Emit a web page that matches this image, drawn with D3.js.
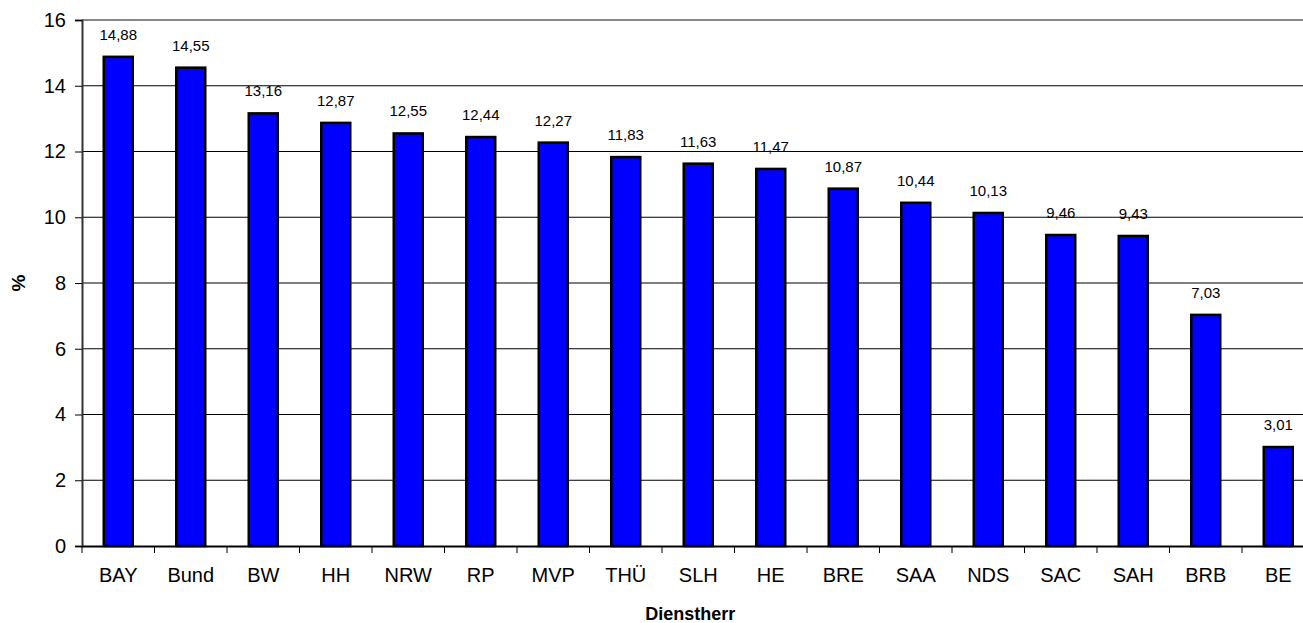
<!DOCTYPE html>
<html lang="de">
<head>
<meta charset="UTF-8">
<title>Dienstherr</title>
<script src="https://cdn.jsdelivr.net/npm/d3@7/dist/d3.min.js"></script>
<style>
    html, body { margin: 0; padding: 0; background: #fff; }
    svg { display: block; font-family: "Liberation Sans", Arial, sans-serif; }
</style>
</head>
<body>
<svg id="chart" width="1303" height="623"></svg>
<script>
    // data
    var categories = ["BAY", "Bund", "BW", "HH", "NRW", "RP", "MVP", "THÜ", "SLH", "HE", "BRE", "SAA", "NDS", "SAC", "SAH", "BRB", "BE"];
    var values = [14.88, 14.55, 13.16, 12.87, 12.55, 12.44, 12.27, 11.83, 11.63, 11.47, 10.87, 10.44, 10.13, 9.46, 9.43, 7.03, 3.01];
    var yTicks = [0, 2, 4, 6, 8, 10, 12, 14, 16];

    var svg = d3.select("#chart");
    var plotLeft = 82, plotTop = 20, plotBottom = 546, plotRight = 1314.5;

    var x = d3.scaleBand().domain(categories).range([plotLeft, plotRight]);
    var y = d3.scaleLinear().domain([0, 16]).range([plotBottom, plotTop]);

    // gridlines
    svg.append("g").selectAll("line")
        .data(yTicks.filter(function (t) { return t > 0 && t < 16; }))
        .join("line")
        .attr("x1", plotLeft).attr("x2", plotRight)
        .attr("y1", function (d) { return y(d); })
        .attr("y2", function (d) { return y(d); })
        .attr("stroke", "#000").attr("stroke-width", 1);

    // top border of plot area
    svg.append("line")
        .attr("x1", plotLeft).attr("x2", plotRight)
        .attr("y1", y(16)).attr("y2", y(16))
        .attr("stroke", "#888").attr("stroke-width", 2);

    // bars
    var bw = x.bandwidth() * 0.4;
    svg.append("g").selectAll("rect")
        .data(values)
        .join("rect")
        .attr("x", function (d, i) { return x(categories[i]) + (x.bandwidth() - bw) / 2; })
        .attr("y", function (d) { return y(d); })
        .attr("width", bw)
        .attr("height", function (d) { return y(0) - y(d); })
        .attr("fill", "#0000ff")
        .attr("stroke", "#000")
        .attr("stroke-width", 2.5);

    // value labels
    svg.append("g").selectAll("text")
        .data(values)
        .join("text")
        .attr("x", function (d, i) { return x(categories[i]) + x.bandwidth() / 2; })
        .attr("y", function (d) { return y(d) - 17; })
        .attr("text-anchor", "middle")
        .attr("font-size", "15px")
        .attr("fill", "#000")
        .text(function (d) { return d.toFixed(2).replace(".", ","); });

    // y axis
    var yAxis = svg.append("g")
        .attr("transform", "translate(" + plotLeft + ",0)")
        .call(d3.axisLeft(y).tickValues(yTicks).tickSize(7).tickPadding(9)
            .tickFormat(function (d) { return d; }));
    yAxis.select(".domain").attr("stroke", "#333").attr("stroke-width", 2);
    yAxis.selectAll(".tick line").attr("stroke", "#000");
    yAxis.selectAll("text").attr("font-size", "20px").attr("font-family", null).attr("fill", "#000");

    // x axis
    var xAxis = svg.append("g")
        .attr("transform", "translate(0," + plotBottom + ")")
        .call(d3.axisBottom(x).tickSize(0).tickPadding(22));
    xAxis.select(".domain").attr("stroke", "#000").attr("stroke-width", 2);
    xAxis.selectAll("text").attr("font-size", "20px").attr("font-family", null).attr("fill", "#000");

    // category separators (ticks between bands)
    svg.append("g").selectAll("line")
        .data(categories)
        .join("line")
        .attr("x1", function (d) { return x(d); })
        .attr("x2", function (d) { return x(d); })
        .attr("y1", plotBottom).attr("y2", plotBottom + 7)
        .attr("stroke", "#000");

    // axis titles
    svg.append("text")
        .attr("x", (plotLeft + plotRight) / 2 - 8)
        .attr("y", 620)
        .attr("text-anchor", "middle")
        .attr("font-size", "18px")
        .attr("font-weight", "bold")
        .text("Dienstherr");

    svg.append("text")
        .attr("transform", "translate(25,283) rotate(-90)")
        .attr("text-anchor", "middle")
        .attr("font-size", "19px")
        .attr("font-weight", "bold")
        .text("%");
</script>
</body>
</html>
